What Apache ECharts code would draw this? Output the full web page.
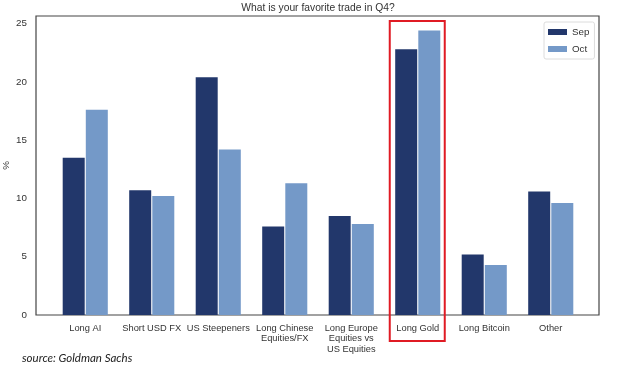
<!DOCTYPE html>
<html>
<head>
<meta charset="utf-8">
<script src="https://cdn.jsdelivr.net/npm/echarts@6/dist/echarts.min.js"></script>
<style>
  html, body { margin: 0; padding: 0; background: #fff; }
  #chart { width: 624px; height: 376px; }
</style>
</head>
<body>
<div id="chart"></div>
<script>
const categories = [
  'Long AI',
  'Short USD FX',
  'US Steepeners',
  'Long Chinese\nEquities/FX',
  'Long Europe\nEquities vs\nUS Equities',
  'Long Gold',
  'Long Bitcoin',
  'Other',
]
const sepValues = [13.5, 10.7, 20.4, 7.6, 8.5, 22.8, 5.2, 10.6]
const octValues = [17.6, 10.2, 14.2, 11.3, 7.8, 24.4, 4.3, 9.6]
const yTicks = { min: 0, max: 25.65, interval: 5 }
const highlighted = 'Long Gold'

const textColor = '#333'
const font = 'Liberation Sans, Arial, sans-serif'

const chart = echarts.init(document.getElementById('chart'))

chart.setOption({
  animation: false,
  title: {
    text: 'What is your favorite trade in Q4?',
    left: 318,
    textAlign: 'center',
    top: 3,
    padding: 0,
    textStyle: { fontSize: 10.3, fontWeight: 'normal', color: textColor, fontFamily: font },
  },
  legend: {
    left: 544,
    top: 22,
    orient: 'vertical',
    icon: 'rect',
    itemWidth: 19,
    itemHeight: 6,
    itemGap: 7,
    padding: [5, 5, 5, 4],
    backgroundColor: '#fff',
    borderColor: '#dcdcdc',
    borderWidth: 1,
    borderRadius: 2,
    data: ['Sep', 'Oct'],
    textStyle: { fontSize: 9.8, color: textColor, fontFamily: font },
  },
  grid: [
    // frame + y axis
    { left: 36, right: 25, top: 16, bottom: 61, outerBoundsMode: 'none', show: true, borderColor: '#444', borderWidth: 1.2, backgroundColor: 'transparent' },
    // bars, inset like matplotlib's x margins
    { left: 52, right: 40, top: 16, bottom: 61, outerBoundsMode: 'none' },
  ],
  xAxis: [
    { gridIndex: 0, type: 'value', show: false, min: 0, max: 1 },
    {
      gridIndex: 1,
      type: 'category',
      data: categories,
      axisLine: { show: false },
      axisTick: { show: false },
      axisLabel: {
        interval: 0,
        margin: 8,
        color: textColor,
        fontSize: 9.3,
        lineHeight: 10.5,
        fontFamily: font,
      },
    },
  ],
  yAxis: [
    {
      gridIndex: 0,
      type: 'value',
      min: yTicks.min,
      max: yTicks.max,
      interval: yTicks.interval,
      name: '%',
      nameLocation: 'middle',
      nameGap: 25,
      nameRotate: 90,
      nameMoveOverlap: false,
      nameTextStyle: { fontSize: 9.8, color: textColor, fontFamily: font },
      axisLine: { show: false },
      axisTick: { show: false },
      splitLine: { show: false },
      axisLabel: { showMaxLabel: false, margin: 9, color: textColor, fontSize: 9.8, fontFamily: font },
    },
    { gridIndex: 1, type: 'value', min: yTicks.min, max: yTicks.max, show: false },
  ],
  series: [
    {
      name: 'Sep',
      type: 'bar',
      xAxisIndex: 1,
      yAxisIndex: 1,
      data: sepValues,
      barWidth: 22,
      barGap: '5%',
      itemStyle: { color: '#22376b' },
    },
    {
      name: 'Oct',
      type: 'bar',
      xAxisIndex: 1,
      yAxisIndex: 1,
      data: octValues,
      barWidth: 22,
      itemStyle: { color: '#7499c8' },
    },
  ],
})

// red highlight box round the chosen category
const cx = chart.convertToPixel({ xAxisIndex: 1 }, highlighted)
chart.setOption({
  graphic: [
    {
      type: 'rect',
      shape: { x: cx - 28, y: 21, width: 55, height: 320 },
      style: { fill: 'none', stroke: '#e01b24', lineWidth: 2 },
      z: 100,
    },
    {
      type: 'text',
      left: 22,
      top: 352,
      style: {
        text: 'source: Goldman Sachs',
        fill: '#222',
        font: 'italic 11.5px Lato, "Open Sans", sans-serif',
      },
    },
  ],
})
</script>
</body>
</html>
